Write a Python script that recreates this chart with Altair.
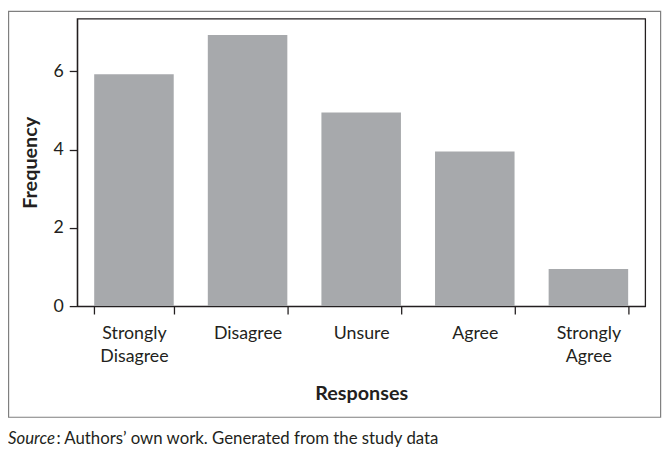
import altair as alt
import pandas as pd

categories = ["Strongly Disagree", "Disagree", "Unsure", "Agree", "Strongly Agree"]
frequencies = [5.93, 6.93, 4.95, 3.95, 0.95]
y_ticks = [0, 2, 4, 6]
x_title = "Responses"
y_title = "Frequency"
source_italic = "Source"
source_rest = ": Authors\u2019 own work. Generated from the study data"

df = pd.DataFrame({"response": categories, "frequency": frequencies})
one = pd.DataFrame({"k": [0]})

TEXT = "#231f20"
FONT = "Lato"

bars = alt.Chart(df).mark_bar(color="#a7a9ac").encode(
    x=alt.X(
        "response:N",
        sort=categories,
        scale=alt.Scale(paddingInner=0.3, paddingOuter=0.15),
        axis=alt.Axis(
            title=x_title,
            labelAngle=0,
            tickBand="extent",
            labelExpr="split(datum.label, ' ')",
            labelLineHeight=23,
            labelPadding=11,
            labelBaseline="top",
            titlePadding=19,
        ),
    ),
    y=alt.Y(
        "frequency:Q",
        scale=alt.Scale(domain=[0, 7.35], nice=False),
        axis=alt.Axis(title=y_title, values=y_ticks, labelPadding=6, titlePadding=13),
    ),
)

border = alt.Chart(one).mark_rect(fill="transparent", stroke="#7f7f7f", strokeWidth=1.2).encode(
    x=alt.value(-69.4), x2=alt.value(590.6), y=alt.value(-7.4), y2=alt.value(403.5)
)

src1 = alt.Chart(one).mark_text(
    align="left", baseline="middle", fontStyle="italic", font=FONT, fontSize=17, color=TEXT
).encode(x=alt.value(-70), y=alt.value(426), text=alt.value(source_italic))

src2 = alt.Chart(one).mark_text(
    align="left", baseline="middle", font=FONT, fontSize=17, color=TEXT
).encode(x=alt.value(-21), y=alt.value(426), text=alt.value(source_rest))

chart = (
    alt.layer(bars, border, src1, src2)
    .properties(
        width=575,
        height=291,
        padding={"left": 70, "top": 8, "right": 17, "bottom": 150},
        autosize=alt.AutoSizeParams(type="none"),
    )
    .configure_view(stroke=TEXT, strokeWidth=1.3)
    .configure_axis(
        domainColor=TEXT,
        tickColor=TEXT,
        labelColor=TEXT,
        titleColor=TEXT,
        labelFont=FONT,
        titleFont=FONT,
        labelFontSize=18,
        titleFontSize=20,
        titleFontWeight="bold",
        grid=False,
        domainWidth=1.3,
        tickWidth=1.3,
        tickSize=8,
    )
)

chart.save("out.html", embed_options={"renderer": "svg", "actions": False})
